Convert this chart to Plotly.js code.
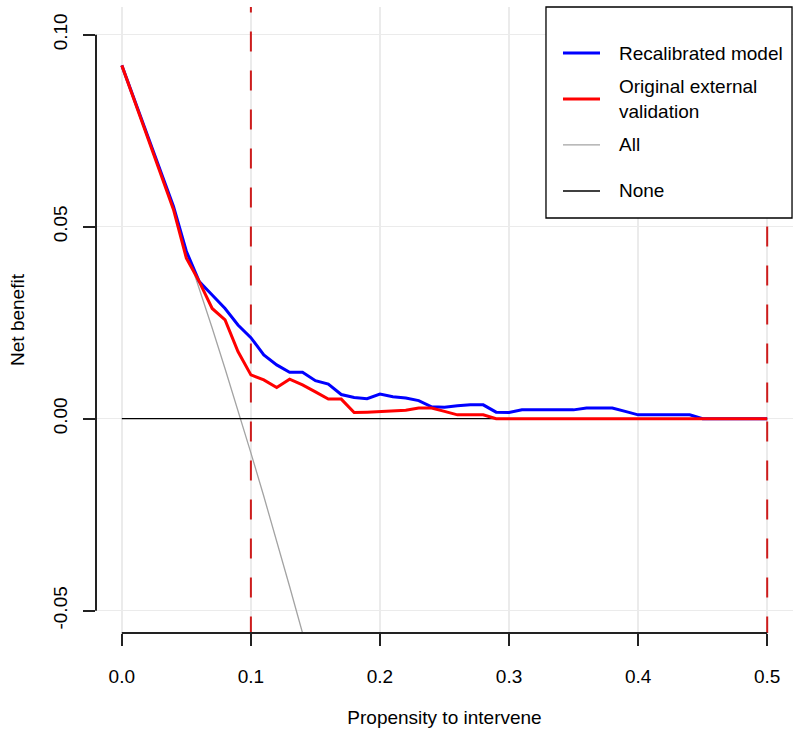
<!doctype html>
<html lang="en">
    <head>
        <meta charset="UTF-8" />
        <title>Decision curve</title>
        <script src="https://cdn.plot.ly/plotly-3.0.1.min.js"></script>
        <style>
            body {
                margin: 0;
                background: white;
            }
            #chart {
                width: 800px;
                height: 734px;
            }
        </style>
    </head>
    <body>
        <div id="chart"></div>

        <script>
            // Threshold probabilities (x)
            const thresholds = [
                0.0, 0.01, 0.02, 0.03, 0.04, 0.05, 0.06, 0.07, 0.08, 0.09,
                0.1, 0.11, 0.12, 0.13, 0.14, 0.15, 0.16, 0.17, 0.18, 0.19,
                0.2, 0.21, 0.22, 0.23, 0.24, 0.25, 0.26, 0.27, 0.28, 0.29,
                0.3, 0.31, 0.32, 0.33, 0.34, 0.35, 0.36, 0.37, 0.38, 0.39,
                0.4, 0.41, 0.42, 0.43, 0.44, 0.45, 0.46, 0.47, 0.48, 0.49,
                0.5,
            ];

            // Net benefit, recalibrated model
            const recalibrated = [
                0.092, 0.0827, 0.0734, 0.0641, 0.0553, 0.0436, 0.0357, 0.0322,
                0.0287, 0.0244, 0.0211, 0.0166, 0.014, 0.0121, 0.0121, 0.0099,
                0.009, 0.0063, 0.0055, 0.0052, 0.0064, 0.0057, 0.0054, 0.0047,
                0.0031, 0.003, 0.0034, 0.0036, 0.0036, 0.0017, 0.0016, 0.0023,
                0.0023, 0.0023, 0.0023, 0.0023, 0.0028, 0.0028, 0.0028, 0.0019,
                0.001, 0.001, 0.001, 0.001, 0.001, 0, 0, 0, 0, 0, 0,
            ];

            // Net benefit, original external validation
            const original = [
                0.092, 0.0825, 0.073, 0.0635, 0.0545, 0.0418, 0.0357, 0.0287,
                0.0257, 0.0175, 0.0114, 0.0101, 0.0081, 0.0103, 0.0088, 0.007,
                0.0051, 0.0051, 0.0016, 0.0017, 0.0019, 0.002, 0.0022, 0.0028,
                0.0028, 0.0019, 0.001, 0.001, 0.001, 0, 0, 0, 0, 0, 0, 0, 0, 0,
                0, 0, 0, 0, 0, 0, 0, 0, 0, 0, 0, 0, 0,
            ];

            // Treat all (only the visible part)
            const allThresholds = [
                0.0, 0.01, 0.02, 0.03, 0.04, 0.05, 0.06, 0.07, 0.08, 0.09,
                0.1, 0.11, 0.12, 0.13, 0.14, 0.15,
            ];
            const allValues = [
                0.092, 0.0828, 0.0735, 0.0639, 0.0542, 0.0442, 0.034, 0.0236,
                0.013, 0.0022, -0.0089, -0.0202, -0.0318, -0.0437, -0.0558,
                -0.0682,
            ];

            // Treat none
            const noneThresholds = [0.0, 0.5];
            const noneValues = [0, 0];

            // Dashed reference lines
            const cutoffs = [0.1, 0.5];

            const xTicks = [0.0, 0.1, 0.2, 0.3, 0.4, 0.5];
            const xTickText = ["0.0", "0.1", "0.2", "0.3", "0.4", "0.5"];
            const yTicks = [-0.05, 0.0, 0.05, 0.1];
            const yTickText = ["-0.05", "0.00", "0.05", "0.10"];

            const legendLabels = [
                "Recalibrated model",
                "Original external<br>validation",
                "All",
                "None",
            ];

            const font = "Liberation Sans, Arial, Helvetica, sans-serif";
            const colors = ["#0000ff", "#ff0000", "#a3a3a3", "#000000"];
            const widths = [3, 3, 1.3, 1.3];

            const traces = [
                {
                    x: allThresholds,
                    y: allValues,
                    type: "scatter",
                    mode: "lines",
                    line: { color: colors[2], width: widths[2] },
                },
                {
                    x: noneThresholds,
                    y: noneValues,
                    type: "scatter",
                    mode: "lines",
                    line: { color: colors[3], width: widths[3] },
                },
                {
                    x: thresholds,
                    y: recalibrated,
                    type: "scatter",
                    mode: "lines",
                    line: { color: colors[0], width: widths[0] },
                },
                {
                    x: thresholds,
                    y: original,
                    type: "scatter",
                    mode: "lines",
                    line: { color: colors[1], width: widths[1] },
                },
            ];

            const shapes = [];
            // dashed cut-off lines, clipped to the plot area
            cutoffs.forEach((c) => {
                shapes.push({
                    type: "line",
                    xref: "x",
                    yref: "y",
                    x0: c,
                    x1: c,
                    y0: 0.111,
                    y1: -0.06,
                    layer: "between",
                    line: { color: "#cd1c1c", width: 2, dash: "20px,19px" },
                });
            });
            // R-style axis lines (only between first and last tick)
            shapes.push({
                type: "line",
                xref: "paper",
                yref: "y",
                x0: 0,
                x1: 0,
                y0: yTicks[0],
                y1: yTicks[yTicks.length - 1],
                line: { color: "#222", width: 2 },
            });
            shapes.push({
                type: "line",
                xref: "x",
                yref: "paper",
                x0: xTicks[0],
                x1: xTicks[xTicks.length - 1],
                y0: 0,
                y1: 0,
                line: { color: "#222", width: 2 },
            });

            // legend box, drawn by hand like R's legend()
            const legRows = [0.9265, 0.853, 0.7796, 0.7061];
            shapes.push({
                type: "rect",
                xref: "paper",
                yref: "paper",
                x0: 0.6456,
                x1: 0.9986,
                y0: 0.6629,
                y1: 1,
                fillcolor: "white",
                line: { color: "black", width: 1.3 },
            });
            const annotations = [];
            legendLabels.forEach((lab, i) => {
                shapes.push({
                    type: "line",
                    xref: "paper",
                    yref: "paper",
                    x0: 0.67,
                    x1: 0.7231,
                    y0: legRows[i],
                    y1: legRows[i],
                    line: { color: colors[i], width: widths[i] },
                });
                annotations.push({
                    xref: "paper",
                    yref: "paper",
                    x: 0.7475,
                    y: legRows[i],
                    xanchor: "left",
                    yanchor: "middle",
                    align: "left",
                    showarrow: false,
                    text: lab,
                    font: { family: font, size: 19, color: "black" },
                });
            });

            const layout = {
                width: 800,
                height: 734,
                margin: { l: 96, r: 7, t: 7, b: 101 },
                paper_bgcolor: "white",
                plot_bgcolor: "white",
                showlegend: false,
                font: { family: font, size: 19, color: "black" },
                xaxis: {
                    range: [-0.02, 0.52],
                    tickvals: xTicks,
                    ticktext: xTickText,
                    ticks: "outside",
                    ticklen: 12,
                    tickwidth: 2,
                    tickcolor: "#222",
                    ticklabelstandoff: 14,
                    showline: false,
                    zeroline: false,
                    showgrid: true,
                    gridcolor: "#ebebeb",
                    gridwidth: 1.5,
                    tickfont: { family: font, size: 19, color: "black" },
                    title: {
                        text: "Propensity to intervene",
                        standoff: 24,
                        font: { family: font, size: 19, color: "black" },
                    },
                    automargin: false,
                },
                yaxis: {
                    range: [-0.0558, 0.1072],
                    tickvals: yTicks,
                    ticktext: yTickText,
                    tickangle: -90,
                    ticks: "outside",
                    ticklen: 12,
                    tickwidth: 2,
                    tickcolor: "#222",
                    ticklabelstandoff: 8,
                    showline: false,
                    zeroline: false,
                    showgrid: true,
                    gridcolor: "#ebebeb",
                    gridwidth: 1.5,
                    tickfont: { family: font, size: 19, color: "black" },
                    title: {
                        text: "Net benefit",
                        standoff: 20,
                        font: { family: font, size: 19, color: "black" },
                    },
                    automargin: false,
                },
                shapes: shapes,
                annotations: annotations,
            };

            Plotly.newPlot("chart", traces, layout, { staticPlot: true });
        </script>
    </body>
</html>
